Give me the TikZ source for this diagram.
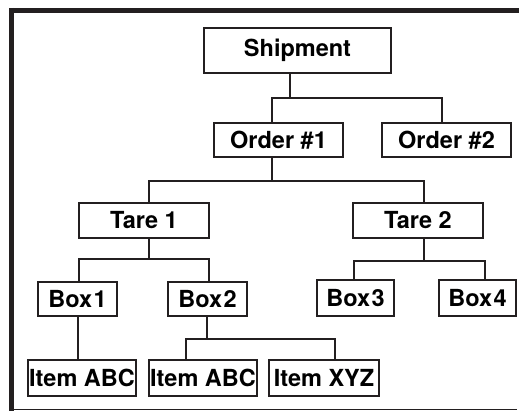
\documentclass[tikz,border=0pt]{standalone}
\usepackage{fontspec}
\setmainfont{TeX Gyre Heros}
\begin{document}
\begin{tikzpicture}[x=1pt,y=-1pt,
  ink/.style={color={rgb,255:red,35;green,31;blue,32}},
  nbox/.style={draw,ink,line width=2pt,inner sep=0pt,font=\fontsize{23.5}{26}\selectfont\bfseries,text=black},
  conn/.style={ink,line width=2pt}]
\useasboundingbox (0,0) rectangle (519,411);
% frame
\draw[ink,line width=5pt] (9,10.5) -- (519,10.5);
\draw[ink,line width=5pt] (11.5,8) -- (11.5,411);
\draw[ink,line width=1.6pt] (9,409.5) -- (517,409.5);
% nodes
\node[nbox,minimum width=187pt,minimum height=45pt] (ship) at (297.5,50.5) {Shipment};
\node[nbox,minimum width=129pt,minimum height=34pt] (o1) at (278.5,140) {Order \#1};
\node[nbox,minimum width=129pt,minimum height=34pt] (o2) at (446.5,140) {Order \#2};
\node[nbox,minimum width=130pt,minimum height=35pt] (t1) at (144,220.5) {Tare 1};
\node[nbox,minimum width=130pt,minimum height=35pt] (t2) at (418,220.5) {Tare 2};
\node[nbox,minimum width=79pt,minimum height=34pt] (b1) at (77.5,299) {Box\kern1.5pt 1};
\node[nbox,minimum width=79pt,minimum height=34pt] (b2) at (207.5,299) {Box\kern1.5pt 2};
\node[nbox,minimum width=77pt,minimum height=36pt] (b3) at (355.5,298) {Box\kern1.5pt 3};
\node[nbox,minimum width=77pt,minimum height=36pt] (b4) at (477.5,298) {Box\kern1.5pt 4};
\node[nbox,minimum width=108pt,minimum height=36pt] (i1) at (82,378) {Item ABC};
\node[nbox,minimum width=108pt,minimum height=36pt] (i2) at (203,378) {Item ABC};
\node[nbox,minimum width=110pt,minimum height=36pt] (i3) at (324,378) {Item XYZ};
% connectors
\draw[conn] ([xshift=-7.5pt]ship.south) -- ++(0,24) coordinate (j1);
\draw[conn] ([xshift=-6.5pt]o1.north) |- (j1) -| ([xshift=-4.5pt]o2.north);
\draw[conn] ([xshift=-6.5pt]o1.south) -- ++(0,23) coordinate (j2);
\draw[conn] ([xshift=4.5pt]t1.north) |- (j2) -| ([xshift=6pt]t2.north);
\draw[conn] ([xshift=5pt]t1.south) -- ++(0,20) coordinate (j3);
\draw[conn] ([xshift=1.5pt]b1.north) |- (j3) -| ([xshift=1.5pt]b2.north);
\draw[conn] ([xshift=6pt]t2.south) -- ++(0,22) coordinate (j4);
\draw[conn] ([xshift=-1.5pt]b3.north) |- (j4) -| ([xshift=7.5pt]b4.north);
\draw[conn] ([xshift=0.5pt]b1.south) -- ([xshift=0.5pt]b1.south |- i1.north);
\draw[conn] ([xshift=-0.5pt]b2.south) -- ++(0,22) coordinate (j5);
\draw[conn] ([xshift=-17pt]i2.north) |- (j5) -| ([xshift=11pt]i3.north);
\end{tikzpicture}
\end{document}
